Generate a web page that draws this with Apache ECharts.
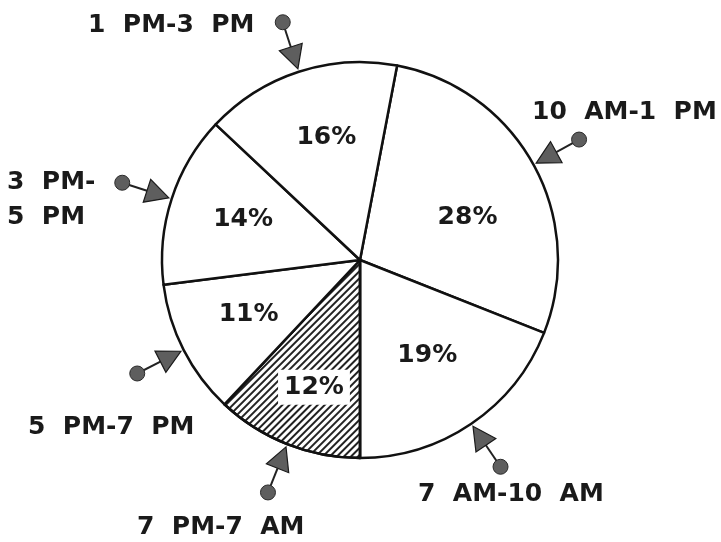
<!DOCTYPE html>
<html>
<head>
<meta charset="utf-8">
<script src="https://cdn.jsdelivr.net/npm/echarts@6/dist/echarts.min.js"></script>
<style>
  html, body { margin: 0; background: #fff; }
  #chart { width: 721px; height: 542px; }
</style>
</head>
<body>
<div id="chart"></div>
<script>
// slices, clockwise from the 10 AM-1 PM slice
const periods = ['10  AM-1  PM', '7  AM-10  AM', '7  PM-7  AM', '5  PM-7  PM', '3  PM-\n5  PM', '1  PM-3  PM']
const shares = [28, 19, 12, 11, 14, 16]
const hatched = [false, false, true, false, false, false]

// pie geometry
const CX = 360
const CY = 260
const R = 198
const START = 79.2 // echarts angle (ccw from 3 o'clock)

// where the period names sit: [x, y]
const namePos = [[532, 112], [418, 494], [137, 527], [28, 427], [7, 200], [88, 25]]
// small nudges of the percent labels off the slice middle
const pctNudge = [[-2, 18], [-3, -8], [0, 11], [0, -2], [2, -2], [5, -4]]

const FONT = 'DejaVu Sans'
const INK = '#1a1a1a'

function pt(deg, r) {
  const a = deg * Math.PI / 180
  return [CX + r * Math.sin(a), CY - r * Math.cos(a)]
}

// mid angle of each slice, clockwise from 12 o'clock
const total = shares.reduce((a, b) => a + b, 0)
let acc = 90 - START
const midAngles = shares.map(v => {
  const span = v / total * 360
  const m = acc + span / 2
  acc += span
  return m
})

const graphics = []
midAngles.forEach((deg, i) => {
  const tip = pt(deg, R + 3)
  const baseC = pt(deg, R + 26)
  const a = deg * Math.PI / 180
  const px = Math.cos(a) * 12
  const py = Math.sin(a) * 12
  const dot = pt(deg, R + 52)
  graphics.push({
    type: 'line',
    shape: { x1: baseC[0], y1: baseC[1], x2: dot[0], y2: dot[1] },
    style: { stroke: '#222', lineWidth: 2 }
  })
  graphics.push({
    type: 'polygon',
    shape: { points: [tip, [baseC[0] + px, baseC[1] + py], [baseC[0] - px, baseC[1] - py]] },
    style: { fill: '#5e5e5e', stroke: '#1a1a1a', lineWidth: 1.2 }
  })
  graphics.push({
    type: 'circle',
    shape: { cx: dot[0], cy: dot[1], r: 7.5 },
    style: { fill: '#5e5e5e', stroke: '#2a2a2a', lineWidth: 1 }
  })
  graphics.push({
    type: 'text',
    x: namePos[i][0],
    y: namePos[i][1],
    style: {
      text: periods[i],
      fill: INK,
      font: 'bold 25px "' + FONT + '"',
      align: 'left',
      verticalAlign: 'middle',
      lineHeight: 35
    }
  })
})

const chart = echarts.init(document.getElementById('chart'))
chart.setOption({
  animation: false,
  backgroundColor: '#fff',
  graphic: graphics,
  series: [
    {
      type: 'pie',
      center: [CX, CY],
      radius: R,
      startAngle: START,
      clockwise: true,
      silent: true,
      label: { show: false },
      labelLine: { show: false },
      itemStyle: { color: '#fff', borderColor: '#111', borderWidth: 2.5 },
      data: periods.map((p, i) => ({
        name: p,
        value: shares[i],
        itemStyle: hatched[i] ? {
          decal: {
            symbol: 'rect',
            symbolSize: 1,
            color: '#222',
            dashArrayX: [1, 0],
            dashArrayY: [1.5, 2.5],
            rotation: -Math.PI / 4
          }
        } : {}
      }))
    },
    {
      // percentage labels only
      type: 'pie',
      center: [CX, CY],
      radius: [46, R],
      startAngle: START,
      clockwise: true,
      silent: true,
      itemStyle: { color: 'rgba(0,0,0,0)', borderWidth: 0 },
      labelLine: { show: false },
      label: {
        show: true,
        position: 'inside',
        formatter: '{c}%',
        color: INK,
        fontFamily: FONT,
        fontWeight: 'bold',
        fontSize: 25
      },
      data: periods.map((p, i) => ({
        name: p,
        value: shares[i],
        label: Object.assign(
          { offset: pctNudge[i] },
          hatched[i] ? { backgroundColor: '#fff', padding: [5, 6] } : {}
        )
      }))
    }
  ]
})
</script>
</body>
</html>
